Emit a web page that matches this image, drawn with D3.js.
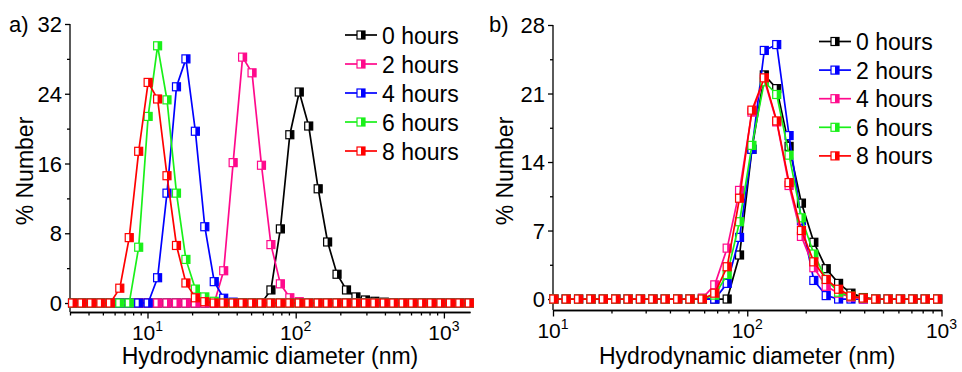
<!DOCTYPE html>
<html>
<head>
<meta charset="utf-8">
<script src="https://cdn.jsdelivr.net/npm/d3@7"></script>
<style>
  body { margin: 0; background: #fff; }
  svg { display: block; font-family: "Liberation Sans", Arial, sans-serif; }
  .axis path, .axis line { stroke: #000; stroke-width: 1.3; }
</style>
</head>
<body>
<div id="chart"></div>
<script>
// Zetasizer size bins (nm)
const sizesA = [3.122, 3.615, 4.187, 4.849, 5.615, 6.503, 7.531, 8.721, 10.1, 11.7, 13.54, 15.69, 18.17, 21.04,
  24.36, 28.21, 32.67, 37.84, 43.82, 50.75, 58.77, 68.06, 78.82, 91.28, 105.7, 122.4, 141.8, 164.2, 190.1,
  220.2, 255.0, 295.3, 342.0, 396.1, 458.7, 531.2, 615.1, 712.4, 825.0, 955.4, 1106, 1281, 1484];
const sizesB = [10.1, 11.7, 13.54, 15.69, 18.17, 21.04, 24.36, 28.21, 32.67, 37.84, 43.82, 50.75, 58.77, 68.06,
  78.82, 91.28, 105.7, 122.4, 141.8, 164.2, 190.1, 220.2, 255.0, 295.3, 342.0, 396.1, 458.7, 531.2, 615.1,
  712.4, 825.0, 955.4];

const labels = ["0 hours", "2 hours", "4 hours", "6 hours", "8 hours"];

// panel a) % number
const a0h = [0,0,0,0,0,0,0,0,0,0, 0,0,0,0,0,0,0,0,0,0, 0, 1.5,8.5,19.3,24.2,20.3,13.1,7.0,3.3,1.5,0.7,0.35,0.2,0.1, 0,0,0,0,0,0,0,0,0];
const a2h = [0,0,0,0,0,0,0,0,0,0, 0,0,0,0,0,0, 3.7,16.1,28.2,26.4,15.8,6.7,2.2,0.6,0.15, 0,0,0,0,0,0,0,0,0,0, 0,0,0,0,0,0,0,0];
const a4h = [0,0,0,0,0,0,0,0,0, 2.9,12.6,24.8,28.0,19.7,8.75,2.45,0.55,0.1, 0,0,0,0,0,0,0,0,0,0, 0,0,0,0,0,0,0,0,0,0, 0,0,0,0,0];
const a6h = [0,0,0,0,0,0,0, 6.4,21.4,29.5,23.3,12.6,5.0,1.6,0.7,0.2, 0,0,0,0,0,0,0,0,0,0, 0,0,0,0,0,0,0,0,0,0, 0,0,0,0,0,0,0];
const a8h = [0,0,0,0,0, 1.7,7.5,17.4,25.3,23.4,14.6,6.6,2.3,0.6,0.15, 0,0,0,0,0,0,0,0,0,0, 0,0,0,0,0,0,0,0,0,0, 0,0,0,0,0,0,0,0];

// panel b) % number
const b0h = [0,0,0,0,0,0,0,0,0,0,0,0, 0,0,0,4.5,15.3,22.9,21.5,15.6,9.8,5.8,3.1,1.6,0.6,0.15, 0,0,0,0,0,0];
const b2h = [0,0,0,0,0,0,0,0,0,0,0,0, 0,0,1.6,6.3,15.3,25.4,26.0,16.7,8.0,1.9,0.35,0,0,0, 0,0,0,0,0,0];
const b4h = [0,0,0,0,0,0,0,0,0,0,0,0, 0.1,1.45,5.2,11.1,19.1,22.4,18.1,11.6,6.4,3.2,1.3,0.6,0.2,0, 0,0,0,0,0,0];
const b6h = [0,0,0,0,0,0,0,0,0,0,0,0, 0,0.4,2.5,7.9,15.7,22.2,20.9,14.7,8.3,4.6,2.0,0.7,0.3,0.1, 0,0,0,0,0,0];
const b8h = [0,0,0,0,0,0,0,0,0,0,0,0, 0,0.6,3.3,10.3,19.3,22.6,18.2,11.9,7.0,3.8,2.0,1.0,0.3,0.1, 0,0,0,0,0,0];

const yTicksA = [0, 8, 16, 24, 32];
const yTicksB = [0, 7, 14, 21, 28];

const BLACK = "#000000", PINK = "#ff0a8c", BLUE = "#0000ff", GREEN = "#19f019", RED = "#ff0000";

const svg = d3.select("#chart").append("svg").attr("width", 962).attr("height", 372);
svg.append("rect").attr("width", 962).attr("height", 372).attr("fill", "#fff");

function marker(g, cx, cy, color) {
  const s = 8;
  g.append("rect").attr("x", cx - s / 2).attr("y", cy - s / 2).attr("width", s).attr("height", s)
    .attr("fill", "#fff").attr("stroke", color).attr("stroke-width", 1.2);
  g.append("rect").attr("x", cx).attr("y", cy - s / 2).attr("width", s / 2).attr("height", s)
    .attr("fill", color);
}

function panel(o) {
  const x = d3.scaleLog().domain(o.xDomain).range([o.left, o.right]);
  const y = d3.scaleLinear().domain(o.yDomain).range([o.bottom, o.top]);
  const g = svg.append("g");

  // axes
  const majorX = [10, 100, 1000].filter(v => v >= o.xDomain[0] && v <= o.xDomain[1]);
  const minorX = [];
  [1, 10, 100, 1000].forEach(d => { for (let k = 2; k <= 9; k++) { const v = d * k; if (v >= o.xDomain[0] && v <= o.xDomain[1]) minorX.push(v); } });
  g.append("g").attr("class", "axis").attr("transform", `translate(0,${o.bottom})`)
    .call(d3.axisBottom(x).tickValues(minorX).tickSize(3.5).tickSizeOuter(0).tickFormat(""));
  g.append("g").attr("class", "axis").attr("transform", `translate(0,${o.bottom})`)
    .call(d3.axisBottom(x).tickValues(majorX).tickSize(6.5).tickSizeOuter(0).tickFormat(""));

  const step = o.yTicks[1] - o.yTicks[0];
  const minorY = o.yTicks.slice(0, -1).map(v => v + step / 2);
  g.append("g").attr("class", "axis").attr("transform", `translate(${o.left},0)`)
    .call(d3.axisLeft(y).tickValues(minorY).tickSize(3).tickSizeOuter(0).tickFormat(""))
    .select(".domain").remove();
  const ya = g.append("g").attr("class", "axis").attr("transform", `translate(${o.left},0)`)
    .call(d3.axisLeft(y).tickValues(o.yTicks).tickSize(5).tickSizeOuter(0).tickFormat(""));
  ya.select(".domain").attr("d", `M0,${y(o.yTicks[o.yTicks.length - 1])}V${o.bottom}`);

  // tick labels
  o.yTicks.forEach(v => {
    g.append("text").attr("x", o.left - 8).attr("y", y(v) + 8).attr("text-anchor", "end")
      .attr("font-size", 22).text(v);
  });
  majorX.forEach(v => {
    const t = g.append("text").attr("x", x(v)).attr("y", o.bottom + 28).attr("text-anchor", "middle")
      .attr("font-size", 21);
    t.append("tspan").text("10");
    t.append("tspan").attr("font-size", 14).attr("dy", -9).text(Math.round(Math.log10(v)));
  });

  g.append("text").attr("x", (o.left + o.right) / 2 + o.xTitleShift).attr("y", 364).attr("text-anchor", "middle")
    .attr("font-size", 23).text("Hydrodynamic diameter (nm)");
  g.append("text").attr("transform", `translate(${o.yTitleX},171) rotate(-90)`).attr("text-anchor", "middle")
    .attr("font-size", 23).text("% Number");
  g.append("text").attr("x", o.tagX).attr("y", 32).attr("font-size", 22).text(o.tag);

  // series
  const line = d3.line().x(d => x(d[0])).y(d => y(d[1]));
  o.series.forEach(s => {
    const pts = o.sizes.map((d, i) => [d, s.values[i]]);
    const sg = g.append("g");
    sg.append("path").attr("d", line(pts)).attr("fill", "none").attr("stroke", s.color).attr("stroke-width", 1.7);
    pts.forEach(p => marker(sg, x(p[0]), y(p[1]), s.color));
  });

  // legend
  o.series.forEach((s, i) => {
    const cy = o.legY + i * o.legStep;
    const lg = g.append("g");
    lg.append("line").attr("x1", o.legX).attr("x2", o.legX + 32).attr("y1", cy).attr("y2", cy)
      .attr("stroke", s.color).attr("stroke-width", 1.7);
    marker(lg, o.legX + 16, cy, s.color);
    lg.append("text").attr("x", o.legX + 37).attr("y", cy + 8.5).attr("font-size", 23).text(labels[i]);
  });
}

panel({
  tag: "a)", tagX: 9, xDomain: [3, 1500], yDomain: [-1.03, 32], yTicks: yTicksA,
  left: 70, right: 470, top: 24, bottom: 312, sizes: sizesA, xTitleShift: 0, yTitleX: 33,
  legX: 345, legY: 35, legStep: 29,
  series: [
    { color: BLACK, values: a0h }, { color: PINK, values: a2h }, { color: BLUE, values: a4h },
    { color: GREEN, values: a6h }, { color: RED, values: a8h }
  ]
});

panel({
  tag: "b)", tagX: 489, xDomain: [10, 1000], yDomain: [-1.12, 28], yTicks: yTicksB,
  left: 553, right: 941.5, top: 25, bottom: 310, sizes: sizesB, xTitleShift: 0, yTitleX: 513,
  legX: 819, legY: 41.5, legStep: 28.6,
  series: [
    { color: BLACK, values: b0h }, { color: BLUE, values: b2h }, { color: PINK, values: b4h },
    { color: GREEN, values: b6h }, { color: RED, values: b8h }
  ]
});
</script>
</body>
</html>
